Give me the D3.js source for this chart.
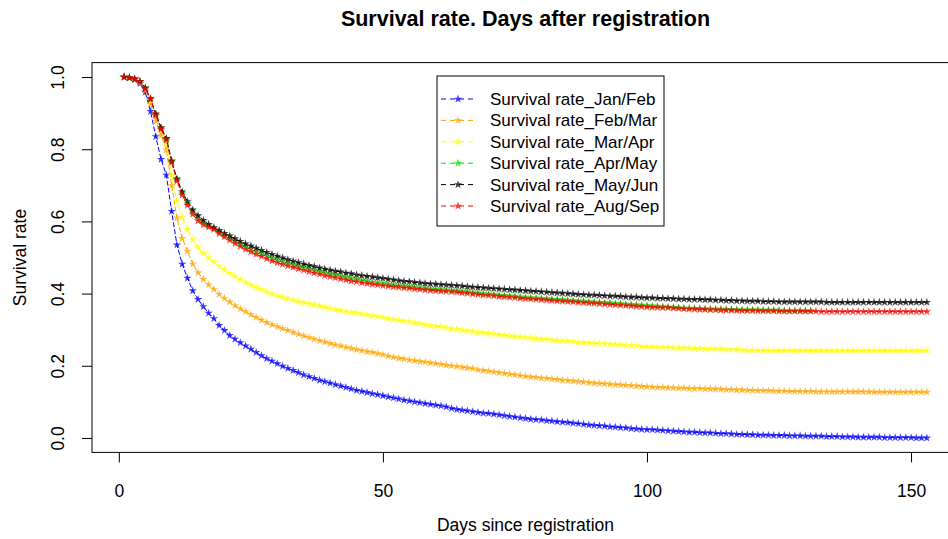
<!DOCTYPE html>
<html lang="en">
<head>
    <meta charset="UTF-8">
    <title>Survival rate. Days after registration</title>
    <script src="https://d3js.org/d3.v7.min.js"></script>
    <style>
        body { margin: 0; background: #fff; }
        text { font-family: "Liberation Sans", Arial, sans-serif; fill: #000; }
    </style>
</head>
<body>
<div id="chart"></div>

<script>
// series names, colours, and daily survival rates (index 0 = day 1)
let seriesNames = ["Survival rate_Jan/Feb", "Survival rate_Feb/Mar", "Survival rate_Mar/Apr",
                   "Survival rate_Apr/May", "Survival rate_May/Jun", "Survival rate_Aug/Sep"]
let seriesColors = ["#0000ff", "#ffa500", "#ffff00", "#00e000", "#000000", "#ff0000"]

let janFeb = [
    1.000, 0.998, 0.993, 0.982, 0.958, 0.905, 0.835, 0.772, 0.728, 0.628,
    0.535, 0.482, 0.443, 0.408, 0.384, 0.364, 0.346, 0.331, 0.312, 0.298,
    0.284, 0.274, 0.264, 0.255, 0.246, 0.237, 0.228, 0.220, 0.213, 0.206,
    0.199, 0.193, 0.187, 0.181, 0.175, 0.170, 0.165, 0.160, 0.156, 0.152,
    0.148, 0.144, 0.140, 0.136, 0.132, 0.129, 0.126, 0.123, 0.120, 0.117,
    0.114, 0.111, 0.108, 0.105, 0.103, 0.100, 0.098, 0.095, 0.093, 0.091,
    0.089, 0.086, 0.082, 0.079, 0.077, 0.075, 0.073, 0.071, 0.069, 0.068,
    0.066, 0.064, 0.062, 0.060, 0.058, 0.056, 0.054, 0.052, 0.051, 0.050,
    0.048, 0.047, 0.045, 0.044, 0.043, 0.041, 0.040, 0.038, 0.036, 0.035,
    0.034, 0.033, 0.031, 0.030, 0.029, 0.028, 0.026, 0.025, 0.024, 0.023,
    0.023, 0.022, 0.021, 0.020, 0.019, 0.018, 0.017, 0.016, 0.016, 0.015,
    0.014, 0.014, 0.013, 0.012, 0.012, 0.011, 0.010, 0.010, 0.009, 0.009,
    0.008, 0.008, 0.008, 0.007, 0.007, 0.007, 0.006, 0.006, 0.006, 0.005,
    0.005, 0.005, 0.005, 0.004, 0.004, 0.004, 0.003, 0.003, 0.003, 0.002,
    0.002, 0.002, 0.002, 0.002, 0.001, 0.001, 0.001, 0.001, 0.001, 0.001,
    0.000, 0.000, 0.000]

let febMar = [
    1.000, 0.998, 0.994, 0.985, 0.963, 0.925, 0.878, 0.838, 0.798, 0.700,
    0.610, 0.553, 0.518, 0.482, 0.458, 0.440, 0.425, 0.412, 0.398, 0.387,
    0.377, 0.367, 0.358, 0.350, 0.342, 0.334, 0.327, 0.320, 0.314, 0.309,
    0.303, 0.298, 0.293, 0.288, 0.283, 0.278, 0.274, 0.270, 0.266, 0.262,
    0.258, 0.255, 0.251, 0.248, 0.245, 0.242, 0.239, 0.237, 0.234, 0.231,
    0.227, 0.224, 0.221, 0.219, 0.216, 0.214, 0.212, 0.210, 0.208, 0.206,
    0.204, 0.202, 0.200, 0.198, 0.196, 0.194, 0.192, 0.189, 0.187, 0.185,
    0.183, 0.181, 0.179, 0.177, 0.175, 0.173, 0.171, 0.169, 0.168, 0.166,
    0.165, 0.163, 0.162, 0.160, 0.159, 0.158, 0.156, 0.155, 0.153, 0.152,
    0.151, 0.150, 0.149, 0.148, 0.147, 0.146, 0.145, 0.144, 0.143, 0.142,
    0.141, 0.140, 0.140, 0.139, 0.139, 0.138, 0.138, 0.137, 0.137, 0.137,
    0.136, 0.136, 0.135, 0.135, 0.134, 0.134, 0.133, 0.133, 0.132, 0.132,
    0.131, 0.131, 0.131, 0.130, 0.130, 0.130, 0.129, 0.129, 0.129, 0.129,
    0.129, 0.128, 0.128, 0.128, 0.128, 0.128, 0.128, 0.128, 0.128, 0.128,
    0.128, 0.128, 0.127, 0.127, 0.127, 0.127, 0.127, 0.127, 0.127, 0.127,
    0.127, 0.127, 0.127]

let marApr = [
    1.000, 0.998, 0.995, 0.987, 0.968, 0.935, 0.895, 0.860, 0.820, 0.728,
    0.656, 0.612, 0.578, 0.549, 0.528, 0.512, 0.499, 0.488, 0.476, 0.466,
    0.456, 0.447, 0.439, 0.431, 0.424, 0.417, 0.411, 0.405, 0.399, 0.394,
    0.390, 0.386, 0.382, 0.378, 0.375, 0.372, 0.369, 0.366, 0.362, 0.359,
    0.356, 0.353, 0.350, 0.348, 0.346, 0.344, 0.341, 0.339, 0.337, 0.334,
    0.330, 0.328, 0.326, 0.324, 0.322, 0.319, 0.317, 0.314, 0.312, 0.310,
    0.308, 0.306, 0.303, 0.301, 0.299, 0.297, 0.295, 0.293, 0.291, 0.290,
    0.288, 0.286, 0.284, 0.283, 0.281, 0.280, 0.278, 0.277, 0.275, 0.274,
    0.273, 0.272, 0.270, 0.269, 0.268, 0.267, 0.265, 0.264, 0.263, 0.262,
    0.262, 0.261, 0.260, 0.259, 0.258, 0.257, 0.256, 0.255, 0.254, 0.253,
    0.252, 0.252, 0.251, 0.251, 0.250, 0.250, 0.249, 0.249, 0.248, 0.248,
    0.247, 0.247, 0.246, 0.246, 0.245, 0.245, 0.244, 0.244, 0.243, 0.243,
    0.243, 0.242, 0.242, 0.242, 0.242, 0.242, 0.242, 0.242, 0.242, 0.242,
    0.242, 0.242, 0.242, 0.242, 0.242, 0.242, 0.242, 0.242, 0.242, 0.242,
    0.242, 0.242, 0.242, 0.242, 0.242, 0.242, 0.242, 0.242, 0.242, 0.242,
    0.242, 0.242, 0.242]

let aprMay = [
    1.000, 0.998, 0.995, 0.988, 0.969, 0.940, 0.896, 0.858, 0.828, 0.766,
    0.716, 0.678, 0.650, 0.626, 0.609, 0.597, 0.588, 0.580, 0.570, 0.561,
    0.553, 0.545, 0.537, 0.530, 0.523, 0.516, 0.510, 0.504, 0.498, 0.493,
    0.488, 0.484, 0.480, 0.476, 0.472, 0.468, 0.464, 0.461, 0.457, 0.454,
    0.451, 0.448, 0.445, 0.442, 0.440, 0.437, 0.435, 0.432, 0.430, 0.428,
    0.426, 0.424, 0.422, 0.421, 0.419, 0.418, 0.416, 0.415, 0.413, 0.412,
    0.411, 0.410, 0.409, 0.408, 0.406, 0.405, 0.403, 0.402, 0.400, 0.399,
    0.398, 0.396, 0.395, 0.394, 0.393, 0.391, 0.390, 0.389, 0.388, 0.387,
    0.386, 0.385, 0.384, 0.383, 0.382, 0.381, 0.380, 0.379, 0.378, 0.377,
    0.376, 0.375, 0.374, 0.373, 0.372, 0.371, 0.370, 0.369, 0.368, 0.367,
    0.366, 0.365, 0.364, 0.363, 0.362, 0.361, 0.360, 0.360, 0.359, 0.359,
    0.358, 0.358, 0.357, 0.357, 0.356, 0.356, 0.356, 0.355, 0.355, 0.355,
    0.355, 0.354, 0.354, 0.354, 0.354, 0.353, 0.353, 0.353, 0.353, 0.353,
    0.353]

let mayJun = [
    1.000, 0.998, 0.995, 0.988, 0.970, 0.940, 0.898, 0.860, 0.830, 0.768,
    0.718, 0.682, 0.655, 0.632, 0.616, 0.603, 0.592, 0.583, 0.575, 0.567,
    0.560, 0.552, 0.545, 0.538, 0.532, 0.526, 0.520, 0.514, 0.509, 0.504,
    0.499, 0.494, 0.490, 0.486, 0.482, 0.478, 0.475, 0.471, 0.468, 0.465,
    0.462, 0.460, 0.457, 0.455, 0.452, 0.450, 0.448, 0.446, 0.444, 0.442,
    0.440, 0.438, 0.436, 0.434, 0.433, 0.431, 0.430, 0.428, 0.427, 0.426,
    0.425, 0.424, 0.423, 0.422, 0.421, 0.419, 0.418, 0.417, 0.416, 0.415,
    0.414, 0.413, 0.412, 0.411, 0.410, 0.409, 0.408, 0.407, 0.406, 0.405,
    0.404, 0.403, 0.402, 0.401, 0.400, 0.399, 0.398, 0.397, 0.396, 0.396,
    0.395, 0.394, 0.393, 0.393, 0.392, 0.391, 0.390, 0.390, 0.389, 0.388,
    0.388, 0.387, 0.387, 0.386, 0.386, 0.385, 0.385, 0.384, 0.384, 0.384,
    0.383, 0.383, 0.382, 0.382, 0.381, 0.381, 0.380, 0.380, 0.379, 0.379,
    0.379, 0.378, 0.378, 0.378, 0.377, 0.377, 0.377, 0.377, 0.377, 0.377,
    0.377, 0.377, 0.377, 0.376, 0.376, 0.376, 0.376, 0.376, 0.376, 0.376,
    0.376, 0.376, 0.376, 0.376, 0.376, 0.376, 0.376, 0.376, 0.376, 0.376,
    0.376, 0.376, 0.376]

let augSep = [
    1.000, 0.998, 0.994, 0.987, 0.967, 0.939, 0.893, 0.855, 0.825, 0.764,
    0.712, 0.673, 0.645, 0.620, 0.602, 0.591, 0.584, 0.578, 0.566, 0.557,
    0.548, 0.539, 0.531, 0.523, 0.516, 0.509, 0.503, 0.497, 0.491, 0.486,
    0.481, 0.477, 0.473, 0.469, 0.465, 0.461, 0.457, 0.454, 0.450, 0.447,
    0.444, 0.441, 0.438, 0.435, 0.433, 0.430, 0.428, 0.426, 0.424, 0.422,
    0.421, 0.419, 0.418, 0.416, 0.415, 0.413, 0.412, 0.410, 0.409, 0.408,
    0.407, 0.406, 0.405, 0.404, 0.402, 0.401, 0.399, 0.398, 0.396, 0.395,
    0.394, 0.392, 0.391, 0.390, 0.389, 0.387, 0.386, 0.385, 0.384, 0.383,
    0.382, 0.381, 0.380, 0.379, 0.378, 0.377, 0.376, 0.375, 0.374, 0.373,
    0.372, 0.371, 0.370, 0.369, 0.368, 0.367, 0.366, 0.365, 0.364, 0.363,
    0.362, 0.362, 0.361, 0.361, 0.360, 0.359, 0.358, 0.357, 0.357, 0.356,
    0.356, 0.355, 0.355, 0.354, 0.354, 0.354, 0.353, 0.353, 0.353, 0.353,
    0.352, 0.352, 0.352, 0.352, 0.351, 0.351, 0.351, 0.351, 0.351, 0.351,
    0.351, 0.351, 0.350, 0.350, 0.350, 0.350, 0.350, 0.350, 0.350, 0.350,
    0.350, 0.350, 0.350, 0.350, 0.350, 0.350, 0.350, 0.350, 0.350, 0.350,
    0.350, 0.350, 0.350]

let seriesValues = [janFeb, febMar, marApr, aprMay, mayJun, augSep]

let xTicks = [0, 50, 100, 150]
let yTicks = [0, 0.2, 0.4, 0.6, 0.8, 1.0]

// --- layout ---
let width = 948,
    height = 539,
    fontSize = "17.5px"

let svg = d3.select("#chart")
    .append("svg")
    .attr("width", width)
    .attr("height", height)

// R style: axis range = data range extended by 4% on each side
let lastDay = d3.max(seriesValues, s => s.length)
let xPad = (lastDay - 1) * 0.04
let x = d3.scaleLinear()
    .domain([1 - xPad, lastDay + xPad])
    .range([92, 959])

let y = d3.scaleLinear()
    .domain([-0.04, 1.04])
    .range([452.4, 62.6])

// plot box
svg.append("rect")
    .attr("x", x.range()[0])
    .attr("y", y.range()[1])
    .attr("width", x.range()[1] - x.range()[0])
    .attr("height", y.range()[0] - y.range()[1])
    .attr("fill", "none")
    .attr("stroke", "#000")
    .attr("stroke-width", 1)

// x axis
let xAxis = svg.append("g")
    .attr("transform", "translate(0," + y.range()[0] + ")")
    .call(d3.axisBottom(x).tickValues(xTicks).tickSize(10).tickFormat(d3.format("d")))
xAxis.select(".domain").remove()
xAxis.selectAll("text")
    .attr("y", 45)
    .attr("dy", null)
    .style("font-size", fontSize)
    .style("font-family", "'Liberation Sans', Arial, sans-serif")

// y axis, labels rotated like R's default
let yAxis = svg.append("g")
    .attr("transform", "translate(" + x.range()[0] + ",0)")
    .call(d3.axisLeft(y).tickValues(yTicks).tickSize(10).tickFormat(d3.format(".1f")))
yAxis.select(".domain").remove()
yAxis.selectAll("text")
    .attr("x", null)
    .attr("dy", null)
    .attr("transform", "translate(-28,0) rotate(-90)")
    .style("text-anchor", "middle")
    .style("font-size", fontSize)
    .style("font-family", "'Liberation Sans', Arial, sans-serif")

// titles
svg.append("text")
    .attr("x", (x.range()[0] + x.range()[1]) / 2)
    .attr("y", 26)
    .attr("text-anchor", "middle")
    .style("font-size", "21.5px")
    .style("font-weight", "bold")
    .text("Survival rate. Days after registration")

svg.append("text")
    .attr("x", (x.range()[0] + x.range()[1]) / 2)
    .attr("y", 531)
    .attr("text-anchor", "middle")
    .style("font-size", fontSize)
    .text("Days since registration")

svg.append("text")
    .attr("transform", "translate(26," + (y.range()[0] + y.range()[1]) / 2 + ") rotate(-90)")
    .attr("text-anchor", "middle")
    .style("font-size", fontSize)
    .text("Survival rate")

// lines + star points
let line = d3.line()
    .x((d, i) => x(i + 1))
    .y(d => y(d))

let star = d3.symbol().type(d3.symbolStar).size(22)

let plot = svg.append("g")

seriesValues.forEach(function(vals, k) {
    plot.append("path")
        .datum(vals)
        .attr("d", line)
        .attr("fill", "none")
        .attr("stroke", seriesColors[k])
        .attr("stroke-width", 1)
        .attr("stroke-dasharray", "5,2")

    plot.selectAll(".pt" + k)
        .data(vals)
        .enter()
        .append("path")
        .attr("d", star)
        .attr("transform", (d, i) => "translate(" + x(i + 1) + "," + y(d) + ")")
        .attr("fill", seriesColors[k])
        .attr("fill-opacity", 0.75)
})

// legend
let legend = svg.append("g")
    .attr("transform", "translate(437,76)")

legend.append("rect")
    .attr("width", 227)
    .attr("height", 150)
    .attr("fill", "#fff")
    .attr("stroke", "#000")
    .attr("stroke-width", 1)

let rows = legend.selectAll(".row")
    .data(seriesNames)
    .enter()
    .append("g")
    .attr("transform", (d, i) => "translate(0," + (23 + i * 21.4) + ")")

rows.append("line")
    .attr("x1", 4)
    .attr("x2", 38)
    .attr("stroke", (d, i) => seriesColors[i])
    .attr("stroke-width", 1)
    .attr("stroke-dasharray", "5,4")

rows.append("path")
    .attr("d", star)
    .attr("transform", "translate(21,0)")
    .attr("fill", (d, i) => seriesColors[i])
    .attr("fill-opacity", 0.75)

rows.append("text")
    .attr("x", 53)
    .attr("y", 6)
    .style("font-size", "17px")
    .text(d => d)
</script>
</body>
</html>
